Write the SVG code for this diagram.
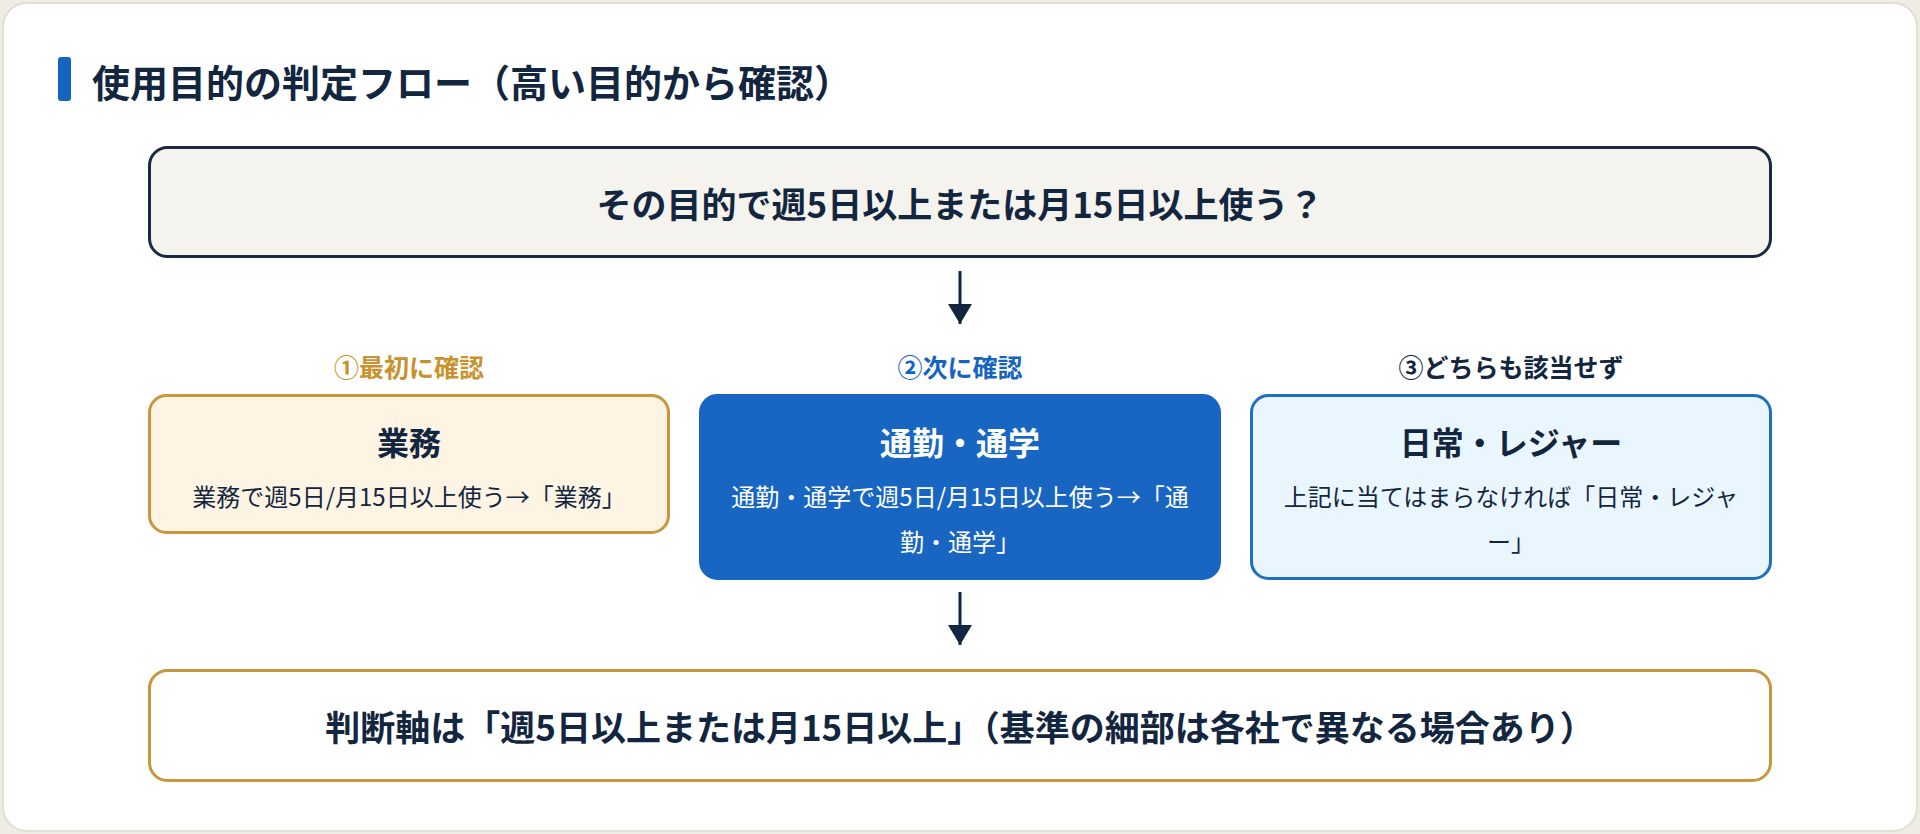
<svg xmlns="http://www.w3.org/2000/svg" width="1920" height="834" viewBox="0 0 1920 834">
  <style>
    text { font-family: "Noto Sans CJK JP", "Noto Sans", sans-serif; text-anchor: middle; dominant-baseline: central; }
    .title { font-size: 38px; font-weight: 700; fill: #13263f; text-anchor: start; }
    .q { font-size: 35px; font-weight: 700; fill: #13263f; }
    .lbl { font-size: 25px; font-weight: 700; }
    .head { font-size: 32px; font-weight: 700; fill: #13263f; }
    .sub { font-size: 24px; font-weight: 400; fill: #13263f; }
    .white { fill: #ffffff; }
    .conn line { stroke: #13263f; stroke-width: 3; }
  </style>
  <defs>
    <marker id="arrow" markerWidth="20" markerHeight="24" refX="20" refY="12" viewBox="0 0 20 24" markerUnits="userSpaceOnUse" orient="auto">
      <path d="M0,0 L20,12 L0,24 Z" fill="#13263f"/>
    </marker>
  </defs>
  <rect x="0" y="0" width="1920" height="834" fill="#eeece4"/>
  <rect x="3" y="3" width="1914" height="828" rx="24" fill="#ffffff" stroke="#e2dfd3" stroke-width="2"/>

  <g id="title">
    <rect x="58" y="57" width="13" height="44" rx="3" fill="#1565c0"/>
    <text class="title" x="92" y="80">使用目的の判定フロー（高い目的から確認）</text>
  </g>

  <g id="question">
    <rect x="149.5" y="147.5" width="1621" height="109" rx="18" fill="#f5f3ee" stroke="#1b2a41" stroke-width="3"/>
    <text class="q" x="960" y="202">その目的で週5日以上または月15日以上使う？</text>
  </g>

  <g id="business">
    <text class="lbl" x="409" y="366" fill="#c8922e">①最初に確認</text>
    <rect x="149.5" y="395.5" width="519" height="137" rx="17" fill="#fdf4e4" stroke="#c8963e" stroke-width="3"/>
    <text class="head" x="409" y="441">業務</text>
    <text class="sub" x="409" y="495">業務で週5日/月15日以上使う→「業務」</text>
  </g>

  <g id="commute">
    <text class="lbl" x="960" y="366" fill="#1565c0">②次に確認</text>
    <rect x="700.5" y="395.5" width="519" height="183" rx="17" fill="#1866c2" stroke="#1866c2" stroke-width="3"/>
    <text class="head white" x="960" y="441">通勤・通学</text>
    <text class="sub white" x="960" y="495">通勤・通学で週5日/月15日以上使う→「通</text>
    <text class="sub white" x="960" y="540">勤・通学」</text>
  </g>

  <g id="leisure">
    <text class="lbl" x="1511" y="366" fill="#13263f">③どちらも該当せず</text>
    <rect x="1251.5" y="395.5" width="519" height="183" rx="17" fill="#eaf6fd" stroke="#1e6fc0" stroke-width="3"/>
    <text class="head" x="1511" y="441">日常・レジャー</text>
    <text class="sub" x="1511" y="495">上記に当てはまらなければ「日常・レジャ</text>
    <text class="sub" x="1511" y="540">ー」</text>
  </g>

  <g id="conclusion">
    <rect x="149.5" y="670.5" width="1621" height="110" rx="18" fill="#ffffff" stroke="#c8963e" stroke-width="3"/>
    <text class="q" x="960" y="725">判断軸は「週5日以上または月15日以上」（基準の細部は各社で異なる場合あり）</text>
  </g>

  <g id="connectors" class="conn">
    <line x1="960" y1="271" x2="960" y2="324" marker-end="url(#arrow)"/>
    <line x1="960" y1="592" x2="960" y2="645" marker-end="url(#arrow)"/>
  </g>
</svg>
